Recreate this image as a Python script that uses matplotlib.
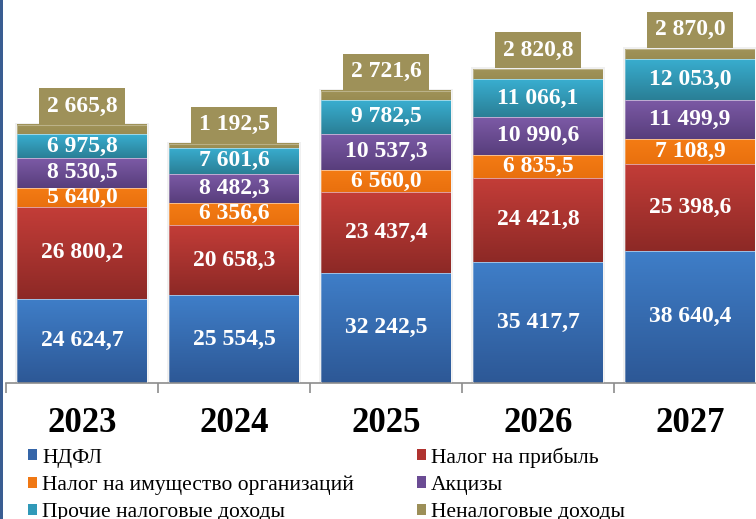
import numpy as np
import matplotlib
matplotlib.use("Agg")
import matplotlib.pyplot as plt
from matplotlib.patches import Patch, Rectangle
from matplotlib.colors import LinearSegmentedColormap

# data (млн руб.)
years = ["2023", "2024", "2025", "2026", "2027"]
ndfl = [24624.7, 25554.5, 32242.5, 35417.7, 38640.4]
profit_tax = [26800.2, 20658.3, 23437.4, 24421.8, 25398.6]
property_tax = [5640.0, 6356.6, 6560.0, 6835.5, 7108.9]
excise = [8530.5, 8482.3, 10537.3, 10990.6, 11499.9]
other_tax = [6975.8, 7601.6, 9782.5, 11066.1, 12053.0]
non_tax = [2665.8, 1192.5, 2721.6, 2820.8, 2870.0]

series_names = ["НДФЛ", "Налог на прибыль", "Налог на имущество организаций",
                "Акцизы", "Прочие налоговые доходы", "Неналоговые доходы"]
series = [ndfl, profit_tax, property_tax, excise, other_tax, non_tax]

# (top colour, bottom colour) for the gradient of each segment
grad_colors = [("#3F7EC8", "#2D5896"),
               ("#C33D38", "#8D2926"),
               ("#F47C14", "#E9700E"),
               ("#7C5AA6", "#583E7C"),
               ("#39AED0", "#2A7F96"),
               ("#A09359", "#998C52")]
legend_colors = ["#3565A8", "#B03330", "#F07814", "#6B4C94", "#3099B8", "#9C8F58"]

serif = "Liberation Serif"


def fmt(v):
    return f"{v:,.1f}".replace(",", " ").replace(".", ",")


fig = plt.figure(figsize=(7.56, 5.19), dpi=100)
ax = fig.add_axes([6 / 756, 136 / 519, 760 / 756, 383 / 519])

x = np.arange(len(years))
width = 0.855
bottom = np.zeros(len(years))
for k, vals in enumerate(series):
    vals = np.array(vals)
    bars = ax.bar(x, vals, width, bottom=bottom, color="none",
                  edgecolor=(1, 1, 1, 0.35), linewidth=0.6, zorder=3)
    cmap = LinearSegmentedColormap.from_list("g%d" % k, [grad_colors[k][1], grad_colors[k][0]])
    grad = np.linspace(0, 1, 64).reshape(-1, 1)
    for b in bars:
        x0, y0 = b.get_x(), b.get_y()
        ax.imshow(grad, cmap=cmap, extent=[x0, x0 + b.get_width(), y0, y0 + b.get_height()],
                  origin="lower", aspect="auto", zorder=2)
    if k < 5:
        for xi, v, b0 in zip(x, vals, bottom):
            ax.text(xi, b0 + v / 2, fmt(v), ha="center", va="center", color="white",
                    fontsize=17, fontweight="bold", family=serif, zorder=5)
    bottom += vals

# faint shadow around each stack
for xi, tot in zip(x, bottom):
    ax.add_patch(Rectangle((xi - width / 2 - 0.012, 0), width + 0.024, tot + 600,
                           facecolor="#000000", alpha=0.06, edgecolor="none", zorder=1))

# non-tax revenue labels in boxes above the bars
for xi, v, tot in zip(x, non_tax, bottom):
    ax.annotate(fmt(v), xy=(xi, tot), xytext=(0, 19), textcoords="offset pixels",
                ha="center", va="center", color="white", fontsize=17, fontweight="bold",
                family=serif, zorder=6,
                bbox=dict(boxstyle="square,pad=0.32", fc="#9E9159", ec="none"))

ax.set_xlim(-0.5, len(years) - 0.5)
ax.set_ylim(0, 111800)
ax.set_yticks([])
for s in ["top", "right", "left"]:
    ax.spines[s].set_visible(False)
ax.spines["bottom"].set_color("#8C8C8C")
ax.spines["bottom"].set_linewidth(1.2)

ax.set_xticks(x)
ax.set_xticklabels(years, family=serif, fontweight="bold", fontsize=25)
ax.tick_params(axis="x", which="major", length=0, pad=17)
ax.set_xticks(np.arange(len(years) + 1) - 0.5, minor=True)
ax.tick_params(axis="x", which="minor", length=7, width=1.2, color="#8C8C8C")

# legend, two columns
handles = [Patch(facecolor=c, edgecolor="none") for c in legend_colors]
order = [0, 2, 4, 1, 3, 5]
fig.legend([handles[i] for i in order], [series_names[i] for i in order],
           loc="upper left", bbox_to_anchor=(28 / 756, 1 - 447 / 519), ncol=2,
           frameon=False, prop={"family": serif, "size": 15.5},
           handlelength=0.42, handleheight=0.42, handletextpad=0.25,
           columnspacing=2.9, labelspacing=0.38, borderpad=0, borderaxespad=0)

# dark border on the left edge
fig.add_artist(Rectangle((0, 0), 3 / 756, 1, transform=fig.transFigure,
                         facecolor="#3A5D92", edgecolor="none"))

fig.savefig("out.png", dpi=100)
